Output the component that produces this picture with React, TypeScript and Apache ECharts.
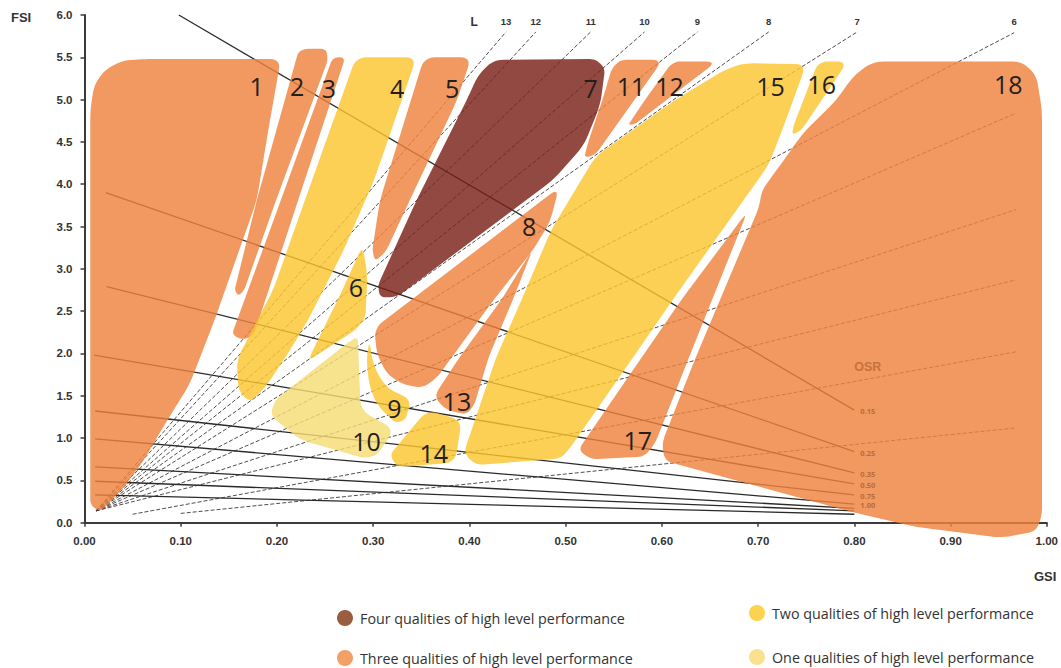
import { useEffect, useRef } from "react";
import * as echarts from "echarts";

type Pt = [number, number];

// ---- quality classes -------------------------------------------------------
const qualityNames = [
  "One qualities of high level performance",
  "Two qualities of high level performance",
  "Three qualities of high level performance",
  "Four qualities of high level performance",
];
// region fills are translucent so the L / OSR lines show through them
const qualityFill = [
  "rgba(245,220,117,0.82)",
  "rgba(251,197,47,0.82)",
  "rgba(238,131,62,0.82)",
  "rgba(122,33,24,0.82)",
];
const qualitySwatch = ["#f8e28e", "#fcd24e", "#f2a066", "#9a5d3f"];

// ---- numbered regions: outlines in (GSI, FSI) ------------------------------
const region1: Pt[] = [[0.006, 0.21], [0.006, 4.88], [0.010, 5.17], [0.021, 5.35], [0.039, 5.46], [0.063, 5.48], [0.204, 5.48], [0.191, 4.64], [0.179, 3.81], [0.157, 3.10], [0.136, 2.42], [0.109, 1.63], [0.086, 1.21], [0.060, 0.71], [0.039, 0.39], [0.016, 0.13]];
const region2: Pt[] = [[0.222, 5.56], [0.229, 5.60], [0.251, 5.60], [0.253, 5.47], [0.199, 3.81], [0.166, 2.75], [0.160, 2.68], [0.156, 2.75], [0.179, 3.81]];
const region3: Pt[] = [[0.258, 5.50], [0.271, 5.50], [0.222, 3.81], [0.176, 2.22], [0.165, 2.16], [0.153, 2.22], [0.204, 3.81]];
const region4: Pt[] = [[0.282, 5.50], [0.345, 5.50], [0.301, 4.05], [0.268, 3.19], [0.232, 2.39], [0.212, 2.01], [0.188, 1.60], [0.172, 1.42], [0.160, 1.56], [0.158, 1.92], [0.196, 2.75], [0.229, 3.81]];
const region5: Pt[] = [[0.353, 5.50], [0.402, 5.50], [0.387, 4.99], [0.338, 3.81], [0.313, 3.20], [0.302, 3.09], [0.299, 3.22], [0.307, 3.81]];
const region6: Pt[] = [[0.289, 3.28], [0.294, 2.93], [0.292, 2.42], [0.282, 2.28], [0.232, 1.91], [0.240, 2.10], [0.268, 2.75]];
const region7: Pt[] = [[0.409, 5.29], [0.425, 5.47], [0.531, 5.48], [0.541, 5.37], [0.536, 4.94], [0.519, 4.46], [0.487, 4.05], [0.325, 2.67], [0.307, 2.66], [0.305, 2.81], [0.345, 3.81], [0.397, 4.99]];
const region8: Pt[] = [[0.493, 3.96], [0.484, 3.56], [0.466, 3.22], [0.425, 2.63], [0.382, 1.96], [0.366, 1.71], [0.351, 1.59], [0.330, 1.64], [0.315, 1.75], [0.304, 1.98], [0.301, 2.30]];
const region9: Pt[] = [[0.296, 2.16], [0.300, 1.86], [0.313, 1.60], [0.340, 1.45], [0.333, 1.21], [0.323, 1.18], [0.304, 1.39], [0.296, 1.62], [0.293, 1.92]];
const region10: Pt[] = [[0.284, 2.20], [0.287, 1.33], [0.322, 1.10], [0.304, 0.80], [0.291, 0.76], [0.224, 0.98], [0.193, 1.27], [0.198, 1.45], [0.274, 2.13]];
const region11: Pt[] = [[0.548, 5.37], [0.557, 5.47], [0.601, 5.47], [0.531, 4.35], [0.519, 4.31], [0.524, 4.52], [0.538, 4.99]];
const region12: Pt[] = [[0.608, 5.40], [0.615, 5.45], [0.657, 5.45], [0.572, 4.71], [0.565, 4.70], [0.582, 4.99]];
const region13: Pt[] = [[0.466, 3.24], [0.445, 2.63], [0.420, 1.96], [0.405, 1.39], [0.397, 1.28], [0.376, 1.33], [0.363, 1.49], [0.390, 1.96], [0.433, 2.63]];
const region14: Pt[] = [[0.317, 0.80], [0.356, 1.33], [0.392, 1.21], [0.385, 0.71], [0.325, 0.66]];
const region15: Pt[] = [[0.665, 5.35], [0.685, 5.43], [0.750, 5.42], [0.727, 4.70], [0.711, 4.23], [0.611, 2.63], [0.568, 1.92], [0.505, 0.89], [0.495, 0.76], [0.407, 0.68], [0.394, 0.82], [0.428, 1.96], [0.454, 2.63], [0.485, 3.46], [0.531, 4.33], [0.613, 4.99]];
const region16: Pt[] = [[0.761, 5.40], [0.768, 5.45], [0.793, 5.45], [0.745, 4.64], [0.735, 4.58], [0.737, 4.70]];
const region17: Pt[] = [[0.689, 3.68], [0.627, 1.92], [0.593, 0.94], [0.582, 0.78], [0.526, 0.75], [0.513, 0.86], [0.577, 1.92], [0.620, 2.63]];
const region18: Pt[] = [[0.704, 3.93], [0.727, 4.29], [0.747, 4.61], [0.781, 4.99], [0.799, 5.28], [0.819, 5.45], [0.974, 5.45], [0.989, 5.29], [0.995, 4.88], [0.995, 0.09], [0.989, -0.10], [0.953, -0.18], [0.864, -0.05], [0.800, 0.12], [0.603, 0.73], [0.600, 0.94], [0.634, 1.92], [0.701, 3.73]];

const regionOutlines: Pt[][] = [region1, region2, region3, region4, region5, region6, region7, region8, region9, region10, region11, region12, region13, region14, region15, region16, region17, region18];
// number of high level qualities for regions 1..18
const regionQualities = [3, 3, 3, 2, 3, 2, 4, 3, 2, 1, 3, 3, 3, 2, 2, 2, 3, 3];
const regionNumbers = ["1", "2", "3", "4", "5", "6", "7", "8", "9", "10", "11", "12", "13", "14", "15", "16", "17", "18"];
const regionLabelAt: Pt[] = [[0.179, 5.16], [0.221, 5.16], [0.254, 5.14], [0.325, 5.14], [0.382, 5.14], [0.282, 2.79], [0.526, 5.14], [0.462, 3.51], [0.322, 1.36], [0.293, 0.97], [0.568, 5.16], [0.608, 5.16], [0.387, 1.44], [0.363, 0.82], [0.713, 5.16], [0.766, 5.19], [0.575, 0.98], [0.960, 5.19]];

// ---- L lines (dashed fan from the origin) ----------------------------------
const lOrigin: Pt = [0.012, 0.14];
const lEnds: Pt[] = [[0.438, 5.80], [0.469, 5.80], [0.526, 5.80], [0.582, 5.80], [0.637, 5.80], [0.711, 5.80], [0.803, 5.80], [0.966, 5.79], [0.968, 4.84], [0.968, 3.70], [0.968, 2.87]];
const lValues = ["13", "12", "11", "10", "9", "8", "7", "6", "", "", ""];
const lShortStarts: Pt[] = [[0.050, 0.10], [0.100, 0.11]];
const lShortEnds: Pt[] = [[0.968, 2.02], [0.968, 1.12]];
const lLabelFSI = 5.92;

// ---- OSR lines (solid, converging at GSI 0.80) -----------------------------
const osrValues = ["0.15", "0.25", "0.35", "0.50", "0.75", "1.00", "", "", ""];
const osrStarts: Pt[] = [[0.098, 6.0], [0.022, 3.90], [0.023, 2.79], [0.010, 1.98], [0.011, 1.32], [0.011, 0.99], [0.011, 0.66], [0.011, 0.49], [0.011, 0.33]];
const osrEnds: Pt[] = [[0.80, 1.33], [0.80, 0.84], [0.80, 0.59], [0.80, 0.46], [0.80, 0.33], [0.80, 0.22], [0.80, 0.17], [0.80, 0.14], [0.80, 0.10]];
const osrTitleAt: Pt = [0.814, 1.84];

// rounds every corner of a pixel polygon with quadratic arcs
function roundedOutline(pts: number[][], radius: number): number[][] {
  const out: number[][] = [];
  const n = pts.length;
  for (let i = 0; i < n; i++) {
    const p = pts[i];
    const a = pts[(i - 1 + n) % n];
    const b = pts[(i + 1) % n];
    const da = Math.hypot(a[0] - p[0], a[1] - p[1]) || 1;
    const db = Math.hypot(b[0] - p[0], b[1] - p[1]) || 1;
    const r = Math.min(radius, da * 0.45, db * 0.45);
    const s = [p[0] + ((a[0] - p[0]) / da) * r, p[1] + ((a[1] - p[1]) / da) * r];
    const e = [p[0] + ((b[0] - p[0]) / db) * r, p[1] + ((b[1] - p[1]) / db) * r];
    for (let k = 0; k <= 6; k++) {
      const t = k / 6;
      const u = 1 - t;
      out.push([
        u * u * s[0] + 2 * u * t * p[0] + t * t * e[0],
        u * u * s[1] + 2 * u * t * p[1] + t * t * e[1],
      ]);
    }
  }
  return out;
}

const segment = (from: Pt, to: Pt, color: string, width: number, dash: number[] | "solid") => ({
  type: "line",
  data: [from, to],
  symbol: "none",
  silent: true,
  z: 1,
  lineStyle: { color, width, type: dash },
});

export default function App() {
  const ref = useRef<HTMLDivElement>(null);

  useEffect(() => {
    if (!ref.current) return;
    const chart = echarts.init(ref.current, undefined, { renderer: "svg" });

    const lSeries = lEnds.map((end) => segment(lOrigin, end, "#3a3a3a", 0.9, [4, 2]));
    const lShortSeries = lShortStarts.map((s, i) => segment(s, lShortEnds[i], "#3a3a3a", 0.9, [4, 2]));
    const osrSeries = osrStarts.map((s, i) => segment(s, osrEnds[i], "#2a2a2a", 1.3, "solid"));

    const regionSeries = {
      type: "custom",
      silent: true,
      z: 3,
      clip: false,
      data: regionOutlines.map((o) => o[0]),
      renderItem: (params: any, api: any) => {
        const outline = regionOutlines[params.dataIndex];
        const px = outline.map((p) => api.coord(p));
        return {
          type: "polygon",
          shape: { points: roundedOutline(px, 11) },
          style: { fill: qualityFill[regionQualities[params.dataIndex] - 1] },
        };
      },
    };

    const textItem = (p: number[], text: string, style: any) => ({
      type: "text",
      x: p[0],
      y: p[1],
      style: { text, align: "center", verticalAlign: "middle", ...style },
    });

    const regionLabelSeries = {
      type: "custom",
      silent: true,
      z: 5,
      clip: false,
      data: regionLabelAt,
      renderItem: (params: any, api: any) =>
        textItem(api.coord(regionLabelAt[params.dataIndex]), regionNumbers[params.dataIndex], {
          fontFamily: "Open Sans",
          fontSize: 25,
          fill: "#231f20",
        }),
    };

    const lLabelSeries = {
      type: "custom",
      silent: true,
      z: 5,
      clip: false,
      data: lEnds,
      renderItem: (params: any, api: any) => {
        const i = params.dataIndex;
        if (!lValues[i]) return null;
        return textItem(api.coord([lEnds[i][0], lLabelFSI]), lValues[i], {
          fontFamily: "Liberation Sans",
          fontWeight: "bold",
          fontSize: 9.5,
          fill: "#333",
        });
      },
    };

    const osrLabelSeries = {
      type: "custom",
      silent: true,
      z: 5,
      clip: false,
      data: osrEnds,
      renderItem: (params: any, api: any) => {
        const i = params.dataIndex;
        if (!osrValues[i]) return null;
        const p = api.coord(osrEnds[i]);
        return {
          type: "text",
          x: p[0] + 6,
          y: p[1] + 1,
          style: {
            text: osrValues[i],
            align: "left",
            verticalAlign: "middle",
            fontFamily: "Open Sans",
            fontWeight: "bold",
            fontSize: 7.5,
            fill: "#bd6a38",
          },
        };
      },
    };

    const titleSeries = {
      type: "custom",
      silent: true,
      z: 5,
      clip: false,
      data: [osrTitleAt],
      renderItem: (_params: any, api: any) => ({
        type: "group",
        children: [
          textItem(api.coord(osrTitleAt), "OSR", {
            fontFamily: "Liberation Sans",
            fontWeight: "bold",
            fontSize: 12.5,
            fill: "#c5723f",
          }),
          textItem(api.coord([0.405, lLabelFSI]), "L", {
            fontFamily: "Liberation Sans",
            fontWeight: "bold",
            fontSize: 12,
            fill: "#333",
          }),
        ],
      }),
    };

    const axisStyle = { color: "#3b3b3b", width: 2 };
    const tickLabel = {
      color: "#333",
      fontWeight: "bold",
      fontSize: 11.5,
      fontFamily: "Liberation Sans",
      margin: 12,
    };

    // legend: two columns of swatch + caption
    const legendOrder = [3, 2, 1, 0];
    const legendPos: number[][] = [[345, 618], [345, 658], [757, 613], [757, 657]];
    const legendGraphics: any[] = [];
    legendOrder.forEach((q, k) => {
      const [cx, cy] = legendPos[k];
      legendGraphics.push({ type: "circle", shape: { cx, cy, r: 8 }, style: { fill: qualitySwatch[q] } });
      legendGraphics.push({
        type: "text",
        x: cx + 15,
        y: cy,
        style: {
          text: qualityNames[q],
          fontFamily: "Open Sans",
          fontSize: 14.3,
          fill: "#333",
          verticalAlign: "middle",
        },
      });
    });

    chart.setOption({
      animation: false,
      grid: { left: 84.5, top: 15, right: 5.3, bottom: 145.3, containLabel: false },
      xAxis: {
        type: "value",
        min: 0,
        max: 1,
        interval: 0.1,
        axisLine: { show: true, onZero: false, lineStyle: axisStyle },
        axisTick: { show: true, length: 4, lineStyle: { color: "#3b3b3b", width: 1.5 } },
        axisLabel: { ...tickLabel, formatter: (v: number) => v.toFixed(2) },
        splitLine: { show: false },
      },
      yAxis: {
        type: "value",
        min: 0,
        max: 6,
        interval: 0.5,
        axisLine: { show: true, onZero: false, lineStyle: axisStyle },
        axisTick: { show: true, length: 4, lineStyle: { color: "#3b3b3b", width: 1.5 } },
        axisLabel: { ...tickLabel, formatter: (v: number) => v.toFixed(1) },
        splitLine: { show: false },
      },
      graphic: [
        {
          type: "text",
          left: 11,
          top: 11,
          style: { text: "FSI", fontFamily: "Liberation Sans", fontWeight: "bold", fontSize: 13, fill: "#333" },
        },
        {
          type: "text",
          left: 1034,
          top: 570,
          style: { text: "GSI", fontFamily: "Liberation Sans", fontWeight: "bold", fontSize: 13, fill: "#333" },
        },
        ...legendGraphics,
      ],
      series: [
        ...lSeries,
        ...lShortSeries,
        ...osrSeries,
        regionSeries,
        regionLabelSeries,
        lLabelSeries,
        osrLabelSeries,
        titleSeries,
      ],
    });

    return () => chart.dispose();
  }, []);

  return <div ref={ref} style={{ position: "absolute", left: 0, top: 0, width: 1061, height: 668 }} />;
}
